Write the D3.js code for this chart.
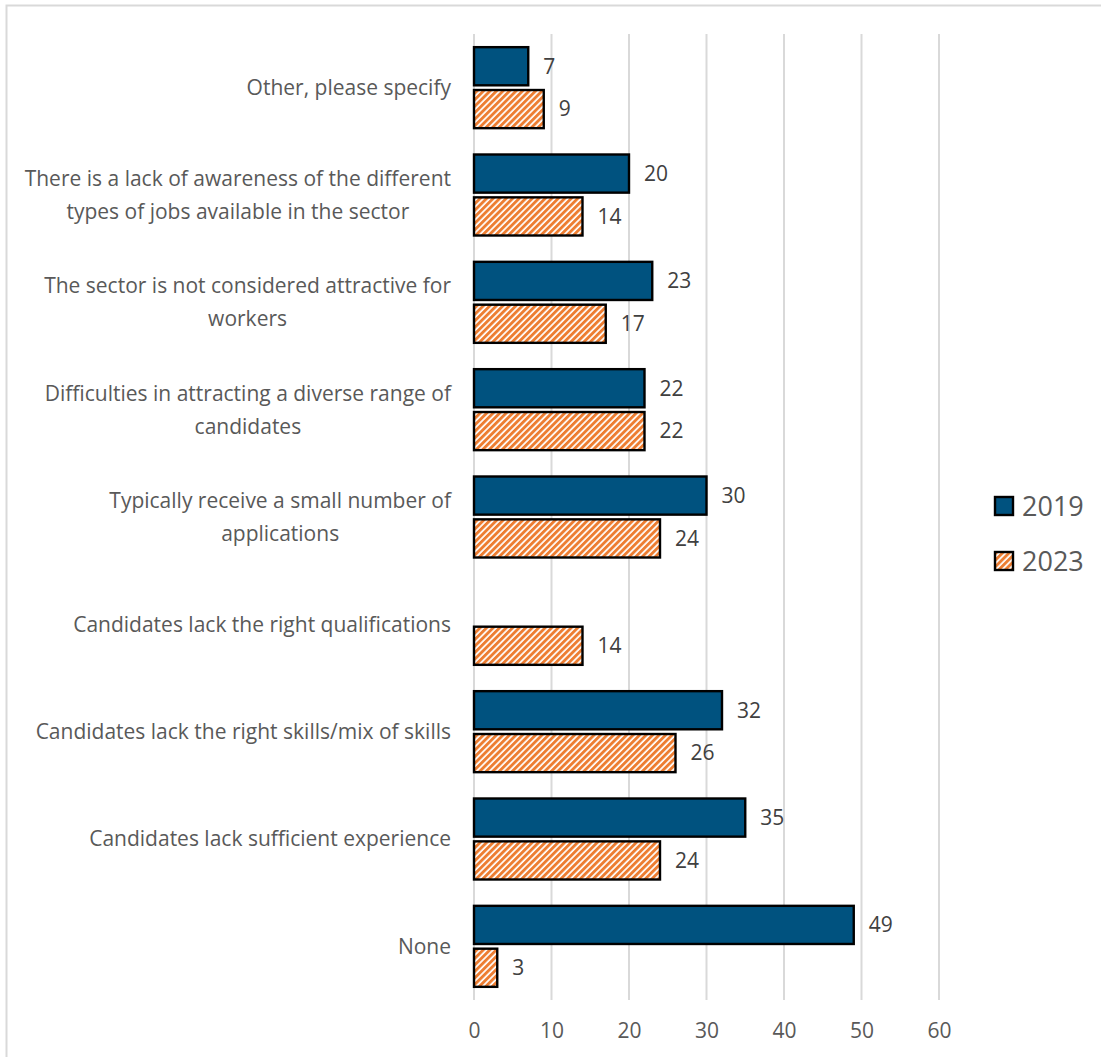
<!DOCTYPE html>
<html>
<head>
<meta charset="utf-8">
<script src="https://cdn.jsdelivr.net/npm/d3@7"></script>
<style>
  html, body { margin: 0; padding: 0; background: #fff; overflow: hidden; }
  svg { display: block; }
</style>
</head>
<body>
<div id="chart"></div>
<script>
// Reasons given for recruitment difficulties, 2019 vs 2023 (%)
const categories = [
  ["Other, please specify"],
  ["There is a lack of awareness of the different", "types of jobs available in the sector"],
  ["The sector is not considered attractive for", "workers"],
  ["Difficulties in attracting a diverse range of", "candidates"],
  ["Typically receive a small number of", "applications"],
  ["Candidates lack the right qualifications"],
  ["Candidates lack the right skills/mix of skills"],
  ["Candidates lack sufficient experience"],
  ["None"]
];
const values2019 = [7, 20, 23, 22, 30, null, 32, 35, 49];
const values2023 = [9, 14, 17, 22, 24, 14, 26, 24, 3];
const seriesNames = ["2019", "2023"];
const xTicks = [0, 10, 20, 30, 40, 50, 60];

const W = 1101, H = 1057;
const FONT = "'Open Sans', 'Liberation Sans', sans-serif";
const TEXT = "#595959";
const BLUE = "#00527f";
const ORANGE = "#ed7d31";

const svg = d3.select("#chart").append("svg")
  .attr("width", W).attr("height", H);

// hatched fill for the 2023 series
const defs = svg.append("defs");
const pat = defs.append("pattern")
  .attr("id", "hatch")
  .attr("patternUnits", "userSpaceOnUse")
  .attr("width", 4.6).attr("height", 4.6)
  .attr("patternTransform", "rotate(45)");
pat.append("rect").attr("width", 4.6).attr("height", 4.6).attr("fill", "#fff");
pat.append("rect").attr("x", 0).attr("y", 0).attr("width", 2.9).attr("height", 4.6).attr("fill", ORANGE);

// chart frame (top and left edges lie inside the page)
svg.append("path")
  .attr("d", `M6.5,${H}V5.5H${W}`)
  .attr("fill", "none").attr("stroke", "#d9d9d9").attr("stroke-width", 2);

const plot = { left: 474, right: 939, top: 34, bottom: 1000 };

const x = d3.scaleLinear().domain([0, 60]).range([plot.left, plot.right]);
const y = d3.scaleBand().domain(d3.range(categories.length))
  .range([plot.top, plot.bottom]).padding(0);
const inner = d3.scaleBand().domain(seriesNames)
  .range([y.bandwidth() / 2 - 40.5, y.bandwidth() / 2 + 40.5])
  .paddingInner(0.11);

// vertical gridlines
svg.append("g").selectAll("line").data(xTicks).join("line")
  .attr("x1", d => x(d)).attr("x2", d => x(d))
  .attr("y1", plot.top).attr("y2", plot.bottom)
  .attr("stroke", "#d9d9d9").attr("stroke-width", 2);

// x axis tick labels
const xAxis = d3.axisBottom(x).tickValues(xTicks).tickSize(0).tickPadding(0);
const gx = svg.append("g")
  .attr("transform", `translate(0,${plot.bottom + 23})`)
  .call(xAxis);
gx.select(".domain").remove();
gx.selectAll("text")
  .attr("font-family", FONT).attr("font-size", 21).attr("fill", TEXT);

// category labels
const catG = svg.append("g");
categories.forEach((lines, i) => {
  const cy = y(i) + y.bandwidth() / 2;
  const lh = 33;
  const t = catG.append("text")
    .attr("text-anchor", "middle")
    .attr("font-family", FONT).attr("font-size", 21).attr("fill", TEXT);
  const startY = cy - (lines.length - 1) * lh / 2;
  lines.forEach((ln, k) => {
    t.append("tspan")
      .attr("x", 0).attr("y", startY + k * lh)
      .attr("dy", "0.35em")
      .text(ln);
  });
});
// right-align each label block, centring its lines on the widest one
catG.selectAll("text").each(function () {
  const el = d3.select(this);
  const widths = [];
  el.selectAll("tspan").each(function () { widths.push(this.getComputedTextLength()); });
  const maxW = d3.max(widths);
  el.selectAll("tspan").attr("x", 451 - maxW / 2);
});

// bars
const rows = [];
categories.forEach((c, i) => {
  rows.push({ i, s: "2019", v: values2019[i] });
  rows.push({ i, s: "2023", v: values2023[i] });
});
const valid = rows.filter(d => d.v != null);

svg.append("g").selectAll("rect").data(valid).join("rect")
  .attr("x", x(0))
  .attr("y", d => y(d.i) + inner(d.s))
  .attr("width", d => x(d.v) - x(0))
  .attr("height", inner.bandwidth())
  .attr("fill", d => d.s === "2019" ? BLUE : "url(#hatch)")
  .attr("stroke", "#000").attr("stroke-width", 2.4);

// value labels
svg.append("g").selectAll("text").data(valid).join("text")
  .attr("x", d => x(d.v) + 15)
  .attr("y", d => y(d.i) + inner(d.s) + inner.bandwidth() / 2)
  .attr("dy", "0.35em")
  .attr("font-family", FONT).attr("font-size", 21).attr("fill", "#404040")
  .text(d => d.v);

// legend
const leg = svg.append("g").attr("transform", "translate(995,497)");
seriesNames.forEach((s, k) => {
  const g = leg.append("g").attr("transform", `translate(0,${k * 55})`);
  g.append("rect").attr("x", 0).attr("y", 0).attr("width", 18).attr("height", 18)
    .attr("fill", s === "2019" ? BLUE : "url(#hatch)")
    .attr("stroke", "#000").attr("stroke-width", 2.4);
  g.append("text").attr("x", 27).attr("y", 9).attr("dy", "0.36em")
    .attr("font-family", FONT).attr("font-size", 27).attr("fill", TEXT)
    .text(s);
});
</script>
</body>
</html>
